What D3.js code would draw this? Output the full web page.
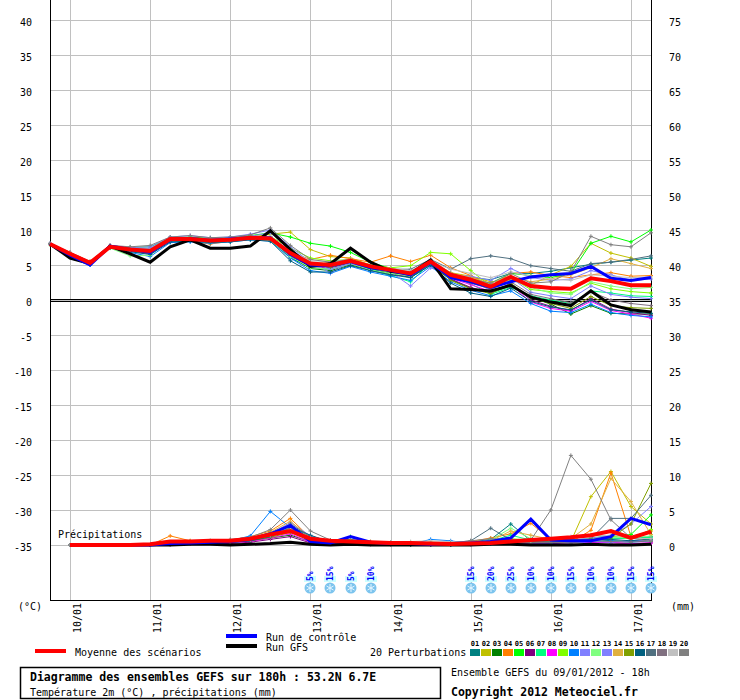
<!DOCTYPE html>
<html>
<head>
<meta charset="utf-8">
<script src="https://cdn.jsdelivr.net/npm/d3@7"></script>
<style>
  body { margin: 0; background: #fff; }
  svg { display: block; }
  text { font-family: "DejaVu Sans Mono", "Liberation Mono", monospace; }
</style>
</head>
<body>
<div id="chart"></div>
<script>
// Forecast steps (hours after 09/01/2012 18h)
const hours = [0,6,12,18,24,30,36,42,48,54,60,66,72,78,84,90,96,102,108,114,120,126,132,138,144,150,156,162,168,174,180];
const precipHours = [6,12,18,24,30,36,42,48,54,60,66,72,78,84,90,96,102,108,114,120,126,132,138,144,150,156,162,168,174,180];

const dayLabels = ["10/01","11/01","12/01","13/01","14/01","15/01","16/01","17/01"];
const dayHours = [6,30,54,78,102,126,150,174];

const snowHours = [78,84,90,96,126,132,138,144,150,156,162,168,174,180];
const snowPct = ["5%","15%","5%","10%","15%","20%","25%","10%","10%","15%","10%","10%","15%","15%"];

const memberColors = ["#008080","#c0c000","#008000","#ff8000","#00ff00","#800080","#00ff80","#ff00ff","#80ff00","#0080ff",
                      "#8080ff","#80ff80","#8080ff","#e0b040","#80a000","#006080","#507080","#807080","#c0c0c0","#808080"];

// Temperature 2m (°C)
const meanTemp    = [8.0,6.6,5.3,7.6,7.2,7.0,8.7,8.7,8.5,8.6,8.9,8.8,6.7,5.2,5.0,5.6,4.8,4.3,3.8,5.5,3.6,2.9,1.9,3.3,2.0,1.7,1.6,3.1,2.7,2.1,2.1];
const controlTemp = [8.0,6.4,5.0,7.7,7.2,6.8,8.6,8.8,8.5,8.7,8.9,8.9,6.5,5.0,4.9,5.5,4.6,4.2,3.6,5.4,3.2,2.6,1.8,2.6,3.3,3.6,3.8,4.8,3.1,2.8,3.2];
const gfsTemp     = [8.0,6.0,5.2,7.7,6.6,5.4,7.6,8.6,7.4,7.4,7.7,9.9,7.2,4.8,5.2,7.4,5.4,4.1,3.8,5.7,1.6,1.5,1.3,2.1,0.4,-0.3,-0.8,1.3,-0.7,-1.4,-1.7];

const perturbTemp = [
  [8.0,6.5,5.1,7.5,7.0,6.6,8.4,8.6,8.3,8.5,8.8,8.6,6.0,4.6,4.4,5.2,4.4,3.8,3.3,5.2,3.6,3.2,2.9,3.8,3.8,4.1,4.6,5.1,5.4,5.7,6.0],
  [8.0,6.7,5.4,7.7,7.4,7.3,8.9,8.9,8.6,8.8,9.0,9.4,9.7,7.2,6.2,6.0,5.0,4.6,3.9,5.6,3.9,3.4,2.6,2.8,2.1,3.6,4.8,8.1,6.7,6.0,4.8],
  [7.9,6.4,5.1,7.5,7.0,6.8,8.5,8.5,8.3,8.5,8.7,8.5,6.2,4.5,4.2,5.0,4.3,3.8,3.2,5.0,2.9,1.7,1.0,2.0,0.4,-0.6,-2.0,-0.8,-1.9,-2.0,-2.0],
  [8.0,6.8,5.5,7.8,7.0,6.6,8.3,8.4,8.0,8.4,8.8,8.7,6.8,5.8,6.4,5.9,5.4,6.3,5.5,6.4,4.6,3.5,2.0,3.8,4.0,3.5,3.2,3.6,3.9,3.4,3.5],
  [8.0,6.6,5.3,7.6,7.5,7.6,8.8,9.0,8.8,8.9,9.2,9.6,9.0,8.1,7.7,6.8,5.4,4.5,3.7,5.4,3.4,3.0,2.4,3.8,3.5,3.2,3.8,8.1,9.1,8.3,10.0],
  [8.0,6.5,5.2,7.5,7.0,6.9,8.6,8.6,8.4,8.5,8.8,8.6,6.2,4.8,4.6,5.3,4.2,3.6,3.4,5.3,3.0,1.8,1.0,2.4,0.0,-0.9,-1.5,0.2,-1.3,-1.8,-2.2],
  [8.0,6.6,5.3,7.7,7.1,6.7,8.6,8.7,8.6,8.6,9.0,8.8,6.6,5.0,4.8,5.4,4.3,3.5,2.6,5.3,3.5,2.3,0.8,1.8,0.6,0.0,-0.5,1.3,1.0,0.6,0.5],
  [8.0,6.6,5.2,7.6,7.3,7.2,8.8,8.8,8.6,8.7,9.0,9.0,7.0,5.3,5.0,5.6,4.6,4.0,3.5,5.2,3.1,2.2,1.2,2.2,-0.3,-1.2,-1.6,-0.2,-1.5,-2.0,-2.6],
  [8.0,6.5,5.3,7.6,7.2,7.1,8.7,8.8,8.5,8.6,8.9,9.1,7.4,6.0,5.6,5.8,5.0,4.6,4.9,6.8,6.6,4.2,2.0,3.2,1.5,1.2,1.0,2.4,1.6,1.2,1.0],
  [8.0,6.4,5.0,7.5,6.8,6.2,8.2,8.3,8.1,8.3,8.6,8.4,6.0,4.2,3.8,4.8,4.0,3.4,2.8,4.8,2.6,1.4,0.6,1.3,-0.5,-1.6,-1.8,-0.6,-1.8,-2.2,-2.4],
  [8.1,6.8,5.4,7.8,7.5,7.6,9.0,9.2,8.9,9.0,9.4,10.0,7.6,5.4,3.9,5.4,4.7,4.0,2.0,4.6,3.6,3.4,2.8,4.5,3.2,2.8,3.0,4.2,3.6,2.8,3.0],
  [8.0,6.7,5.3,7.4,6.3,6.4,8.5,8.6,8.2,8.4,8.7,8.5,6.2,4.6,4.4,5.2,4.3,3.8,3.4,5.4,3.3,2.6,1.6,3.0,1.8,1.0,0.8,2.6,2.0,1.6,1.8],
  [8.0,6.6,5.2,7.6,7.4,7.4,8.8,8.9,8.7,8.9,9.1,9.6,7.2,5.4,4.4,5.2,4.6,4.2,3.8,5.5,3.8,2.7,1.4,3.2,1.1,0.6,0.2,2.0,0.8,0.4,0.2],
  [8.0,6.7,5.4,7.7,7.3,7.1,8.7,8.7,8.5,8.6,8.9,8.9,6.9,5.4,5.2,5.8,5.0,4.5,4.0,5.7,3.9,3.2,2.4,3.4,2.6,3.0,3.6,4.6,5.9,5.2,4.5],
  [8.0,6.5,5.2,7.5,7.1,7.0,8.6,8.6,8.4,8.5,8.8,8.7,6.6,5.0,4.7,5.4,4.5,4.0,3.5,5.4,2.8,1.6,0.9,2.4,0.3,-0.5,-1.2,0.5,-0.8,-1.1,-1.2],
  [8.0,6.5,5.1,7.5,6.9,6.5,8.3,8.4,8.2,8.3,8.6,8.4,5.6,4.0,4.0,4.9,4.2,3.6,3.2,5.0,2.4,1.0,0.5,1.7,-0.2,-1.0,-1.4,0.0,-1.4,-1.7,-1.9],
  [8.0,6.6,5.3,7.6,7.2,7.0,8.7,8.8,8.6,8.7,9.0,9.0,6.8,5.1,4.9,5.6,4.9,4.4,4.4,5.8,4.4,5.9,6.3,5.9,4.9,4.5,4.1,5.2,5.4,5.8,6.3],
  [8.0,6.6,5.3,7.6,7.1,7.0,8.6,8.7,8.5,8.6,8.9,8.8,6.6,5.2,5.0,5.6,4.7,4.1,3.7,5.3,3.4,2.4,1.6,2.6,0.8,0.2,-0.4,1.2,0.0,-0.5,-0.8],
  [8.0,6.7,5.4,7.6,7.3,7.1,8.8,8.8,8.6,8.7,9.0,9.1,7.0,5.6,5.5,5.8,4.9,4.5,4.2,5.5,4.4,3.8,3.2,4.0,3.4,3.0,2.8,3.6,3.4,3.2,3.3],
  [8.1,6.8,5.5,7.8,7.6,7.8,9.0,9.2,8.9,9.0,9.3,10.3,7.8,5.8,5.4,5.8,4.8,4.3,3.9,5.6,3.8,3.0,2.4,3.8,2.4,2.6,4.0,9.1,7.9,7.6,9.6]
];

// Precipitation (mm / 6h)
const meanPrecip    = [0,0,0,0,0.1,0.5,0.5,0.6,0.6,0.9,1.5,2.0,0.9,0.6,0.5,0.4,0.3,0.3,0.2,0.15,0.2,0.3,0.5,0.7,0.9,1.1,1.4,2.0,1.0,1.9];
const controlPrecip = [0,0,0,0,0,0.2,0.3,0.4,0.5,0.8,1.6,2.8,0.5,0.3,1.2,0.4,0.2,0.2,0.1,0.2,0.3,0.5,1.0,3.7,0.7,0.6,0.6,1.2,3.8,2.9];
const gfsPrecip     = [0,0,0,0,0,0.0,0.1,0.1,0.0,0.1,0.2,0.4,0.1,0.0,0.1,0.0,0.0,0.0,0.0,0.0,0.0,0.1,0.1,0.0,0.0,0.0,0.1,0.0,0.0,0.1];

const perturbPrecip = [
  [0,0,0,0,0,0.3,0.4,0.5,0.6,1.0,1.6,2.6,1.2,0.6,0.8,0.4,0.2,0.3,0.1,0.2,0.4,0.8,3.0,0.6,0.4,0.5,0.8,1.0,0.9,1.2],
  [0,0,0,0,0,0.2,0.5,0.4,0.6,0.8,1.2,2.2,0.8,0.5,0.4,0.2,0.1,0.2,0.3,0.1,0.2,0.3,0.5,0.4,0.6,0.5,6.9,10.5,5.5,3.0],
  [0,0,0,0,0,0.2,0.3,0.4,0.3,0.6,1.0,1.4,0.5,0.3,0.4,0.3,0.2,0.1,0.0,0.1,0.2,0.4,0.6,0.8,0.5,0.6,0.9,0.6,0.5,0.8],
  [0,0,0,0,0,1.3,0.6,0.5,0.7,1.2,2.0,3.8,1.0,0.6,0.5,0.5,0.3,0.4,0.2,0.2,0.5,1.0,1.6,3.1,0.8,0.4,2.1,10.3,1.2,2.0],
  [0,0,0,0,0,0.2,0.5,0.4,0.5,0.8,1.5,2.4,0.8,0.4,1.2,0.4,0.2,0.2,0.3,0.1,0.3,0.4,0.8,0.6,0.7,0.9,1.4,1.2,1.5,4.3],
  [0,0,0,0,0,0.1,0.2,0.3,0.2,0.4,0.8,1.2,0.3,0.2,0.2,0.1,0.1,0.0,0.1,0.0,0.1,0.2,0.3,0.2,0.2,0.3,0.4,0.3,0.2,0.3],
  [0,0,0,0,0,0.4,0.5,0.6,0.6,0.9,1.8,2.0,1.1,0.6,0.6,0.4,0.3,0.3,0.2,0.2,0.3,0.6,1.4,0.7,0.6,0.8,0.6,1.0,0.9,1.1],
  [0,0,0,0,0,0.1,0.3,0.3,0.4,0.5,1.0,1.6,0.4,0.2,0.3,0.2,0.1,0.1,0.0,0.1,0.1,0.3,0.4,0.3,0.3,0.5,0.3,0.4,0.2,0.3],
  [0,0,0,0,0,0.3,0.4,0.5,0.5,0.8,1.3,2.8,0.9,0.5,0.7,0.4,0.3,0.2,0.4,0.3,0.4,0.5,0.9,0.7,0.5,0.6,1.0,1.3,0.9,2.2],
  [0,0,0,0,0,0.2,0.4,0.5,0.6,1.3,4.8,2.5,0.7,0.4,0.5,0.3,0.2,0.1,0.8,0.6,0.2,0.3,0.4,0.3,0.3,0.4,0.5,0.6,0.4,0.6],
  [0,0,0,0,0,0.3,0.4,0.4,0.6,0.9,1.6,3.2,1.3,0.5,0.6,0.3,0.3,0.2,0.1,0.2,0.3,0.4,0.6,0.5,0.6,0.7,1.0,1.3,3.0,5.5],
  [0,0,0,0,0,0.2,0.5,0.4,0.5,0.7,1.4,2.2,0.9,0.4,0.6,0.3,0.2,0.3,0.2,0.2,0.3,0.7,2.4,0.9,0.5,0.6,0.9,1.1,1.0,1.3],
  [0,0,0,0,0,0.2,0.3,0.4,0.4,0.7,1.2,2.0,0.6,0.3,0.4,0.2,0.2,0.1,0.1,0.1,0.2,0.3,0.4,0.5,0.4,0.3,0.5,0.4,0.6,0.7],
  [0,0,0,0,0,0.4,0.6,0.5,0.7,1.0,1.8,3.4,1.0,0.6,0.5,0.4,0.3,0.3,0.2,0.2,0.4,0.6,2.0,1.4,0.8,0.9,3.0,9.5,6.2,1.5],
  [0,0,0,0,0,0.2,0.3,0.4,0.4,0.6,1.1,1.8,0.6,0.3,0.4,0.2,0.2,0.1,0.1,0.1,0.2,0.3,0.5,0.4,0.5,0.7,0.8,1.0,3.0,8.8],
  [0,0,0,0,0,0.1,0.3,0.3,0.4,0.6,1.2,2.6,1.4,0.4,0.3,0.3,0.2,0.1,0.1,0.1,0.2,0.4,0.6,0.5,0.4,0.6,0.7,0.8,0.6,0.9],
  [0,0,0,0,0,0.3,0.4,0.6,0.5,0.8,1.5,3.0,1.2,0.5,0.6,0.3,0.4,0.3,0.2,0.3,0.6,2.4,0.7,0.6,0.4,0.5,0.9,3.8,3.8,7.1],
  [0,0,0,0,0,0.2,0.3,0.3,0.5,0.7,1.3,2.4,0.8,0.4,0.4,0.2,0.2,0.2,0.1,0.1,0.2,0.3,0.4,0.3,0.4,0.3,0.6,0.5,0.4,0.6],
  [0,0,0,0,0,0.3,0.5,0.4,0.6,0.8,1.4,2.6,1.0,0.6,0.5,0.5,0.4,0.5,0.6,0.5,0.4,0.5,0.7,0.6,0.9,1.2,1.3,1.4,1.0,0.9],
  [0,0,0,0,0,0.3,0.4,0.5,0.8,1.1,2.2,5.0,2.0,0.7,0.5,0.4,0.3,0.2,0.2,0.3,0.6,0.9,0.8,0.7,5.0,12.8,9.4,3.6,1.0,0.5]
];

// Set up dimensions
const width = 740;
const height = 700;
const plotLeft = 50, plotRight = 651, plotTop = 0, plotBottom = 600;

const svg = d3.select("#chart")
    .append("svg")
    .attr("width", width)
    .attr("height", height);

const x = d3.scaleLinear().domain([0, 180]).range([plotLeft, plotRight]);
const y = d3.scaleLinear().domain([0, 40]).range([300, 20]);
// precipitation axis shares the pixel scale, with 0 mm at -35 °C
const yP = mm => y(mm - 35);

const tempTicks = d3.range(-35, 41, 5);

// Grid
svg.append("g").selectAll("line")
    .data(tempTicks)
    .enter().append("line")
    .attr("x1", plotLeft).attr("x2", plotRight)
    .attr("y1", d => y(d) + 0.5).attr("y2", d => y(d) + 0.5)
    .attr("stroke", "#c0c0c0");

svg.append("g").selectAll("line")
    .data(dayHours)
    .enter().append("line")
    .attr("x1", d => Math.round(x(d)) + 0.5).attr("x2", d => Math.round(x(d)) + 0.5)
    .attr("y1", plotTop).attr("y2", plotBottom)
    .attr("stroke", "#c0c0c0");

// Axis frame
svg.append("line").attr("x1", plotLeft + 0.5).attr("x2", plotLeft + 0.5).attr("y1", plotTop).attr("y2", plotBottom + 1).attr("stroke", "#000");
svg.append("line").attr("x1", plotRight + 0.5).attr("x2", plotRight + 0.5).attr("y1", plotTop).attr("y2", plotBottom + 1).attr("stroke", "#000");
svg.append("line").attr("x1", plotLeft).attr("x2", plotRight + 1).attr("y1", plotBottom + 0.5).attr("y2", plotBottom + 0.5).attr("stroke", "#000");

// Zero line (double)
[-0.5, 1.5].forEach(o => {
  svg.append("line").attr("x1", plotLeft).attr("x2", plotRight)
     .attr("y1", y(0) + o).attr("y2", y(0) + o)
     .attr("stroke", "#000");
});

// Y labels
svg.append("g").selectAll("text")
    .data(tempTicks)
    .enter().append("text")
    .attr("x", 32).attr("y", d => y(d) + 6)
    .attr("text-anchor", "end")
    .style("font-size", "10px")
    .text(d => d);

svg.append("g").selectAll("text")
    .data(tempTicks)
    .enter().append("text")
    .attr("x", 669).attr("y", d => y(d) + 6)
    .style("font-size", "10px")
    .text(d => d + 35);

svg.append("text").attr("x", 18).attr("y", 610).style("font-size", "10px").text("(°C)");
svg.append("text").attr("x", 671).attr("y", 610).style("font-size", "10px").text("(mm)");

// Day labels
svg.append("g").selectAll("text")
    .data(dayHours)
    .enter().append("text")
    .attr("transform", d => `translate(${Math.round(x(d)) + 11}, 603) rotate(-90)`)
    .attr("text-anchor", "end")
    .style("font-size", "10px")
    .text((d, i) => dayLabels[i]);

// Line helpers
const tempLine = d3.line().x((d, i) => x(hours[i])).y(d => y(d));
const precipLine = d3.line().x((d, i) => x(precipHours[i])).y(d => yP(d));

function crosses(g, vals, xs, yf, color) {
  g.selectAll(null)
    .data(vals)
    .enter().append("path")
    .attr("d", (d, i) => {
      const px = x(xs[i]), py = yf(d);
      return `M${px - 2},${py}H${px + 2}M${px},${py - 2}V${py + 2}`;
    })
    .attr("stroke", color)
    .attr("stroke-width", 1);
}

svg.append("text").attr("x", 58).attr("y", 538).style("font-size", "10px").text("Précipitations");

// Perturbations
const pertG = svg.append("g");
perturbPrecip.forEach((vals, k) => {
  pertG.append("path").attr("d", precipLine(vals))
    .attr("fill", "none").attr("stroke", memberColors[k]).attr("stroke-width", 1);
  crosses(pertG, vals, precipHours, yP, memberColors[k]);
});
perturbTemp.forEach((vals, k) => {
  pertG.append("path").attr("d", tempLine(vals))
    .attr("fill", "none").attr("stroke", memberColors[k]).attr("stroke-width", 1);
  crosses(pertG, vals, hours, y, memberColors[k]);
});

// GFS, control, mean
svg.append("path").attr("d", precipLine(gfsPrecip)).attr("fill", "none").attr("stroke", "#000").attr("stroke-width", 3);
svg.append("path").attr("d", tempLine(gfsTemp)).attr("fill", "none").attr("stroke", "#000").attr("stroke-width", 3);
svg.append("path").attr("d", precipLine(controlPrecip)).attr("fill", "none").attr("stroke", "#0000ff").attr("stroke-width", 3);
svg.append("path").attr("d", tempLine(controlTemp)).attr("fill", "none").attr("stroke", "#0000ff").attr("stroke-width", 3);
svg.append("path").attr("d", precipLine(meanPrecip)).attr("fill", "none").attr("stroke", "#ff0000").attr("stroke-width", 4);
svg.append("path").attr("d", tempLine(meanTemp)).attr("fill", "none").attr("stroke", "#ff0000").attr("stroke-width", 4);

// Snow probability icons
const snow = svg.append("g").selectAll("g")
    .data(snowHours)
    .enter().append("g")
    .attr("transform", d => `translate(${Math.round(x(d))}, 0)`);

snow.append("rect").attr("x", -6).attr("y", 576).attr("width", 12).attr("height", 6).attr("fill", "#ccffff");
snow.append("circle").attr("cx", 0).attr("cy", 588).attr("r", 5.5).attr("fill", "#7cc4ee");
snow.append("path")
    .attr("d", "M0,584V592M-3.5,586L3.5,590M-3.5,590L3.5,586")
    .attr("stroke", "#e8f6ff").attr("stroke-width", 1);
snow.append("text")
    .attr("transform", "translate(3, 581) rotate(-90)")
    .attr("fill", "#0000ff")
    .style("font-size", "8px")
    .style("font-weight", "bold")
    .text((d, i) => snowPct[i]);

// Legend
svg.append("line").attr("x1", 35).attr("x2", 66).attr("y1", 651).attr("y2", 651).attr("stroke", "#ff0000").attr("stroke-width", 4);
svg.append("text").attr("x", 75).attr("y", 656).style("font-size", "10px").text("Moyenne des scénarios");
svg.append("line").attr("x1", 226).attr("x2", 257).attr("y1", 636).attr("y2", 636).attr("stroke", "#0000ff").attr("stroke-width", 4);
svg.append("text").attr("x", 266).attr("y", 641).style("font-size", "10px").text("Run de contrôle");
svg.append("line").attr("x1", 226).attr("x2", 257).attr("y1", 646).attr("y2", 646).attr("stroke", "#000").attr("stroke-width", 4);
svg.append("text").attr("x", 266).attr("y", 651).style("font-size", "10px").text("Run GFS");
svg.append("text").attr("x", 370).attr("y", 656).style("font-size", "10px").text("20 Perturbations");

const leg = svg.append("g").selectAll("g")
    .data(memberColors)
    .enter().append("g")
    .attr("transform", (d, i) => `translate(${470 + i * 11}, 0)`);
leg.append("rect").attr("x", 0).attr("y", 649).attr("width", 10).attr("height", 7).attr("fill", d => d);
leg.append("text")
    .attr("x", 5).attr("y", 646)
    .attr("text-anchor", "middle")
    .style("font-size", "7px")
    .style("font-weight", "bold")
    .text((d, i) => String(i + 1).padStart(2, "0"));

// Title box
svg.append("rect").attr("x", 20.5).attr("y", 667.5).attr("width", 420).attr("height", 31)
    .attr("fill", "none").attr("stroke", "#000").attr("stroke-width", 1.5);
svg.append("text").attr("x", 30).attr("y", 681).style("font-size", "11.5px").style("font-weight", "bold")
    .text("Diagramme des ensembles GEFS sur 180h : 53.2N 6.7E");
svg.append("text").attr("x", 30).attr("y", 696).style("font-size", "10px")
    .text("Température 2m (°C) , précipitations (mm)");
svg.append("text").attr("x", 451).attr("y", 676).style("font-size", "10px")
    .text("Ensemble GEFS du 09/01/2012 - 18h");
svg.append("text").attr("x", 451).attr("y", 696).style("font-size", "11.5px").style("font-weight", "bold")
    .text("Copyright 2012 Meteociel.fr");
</script>
</body>
</html>
